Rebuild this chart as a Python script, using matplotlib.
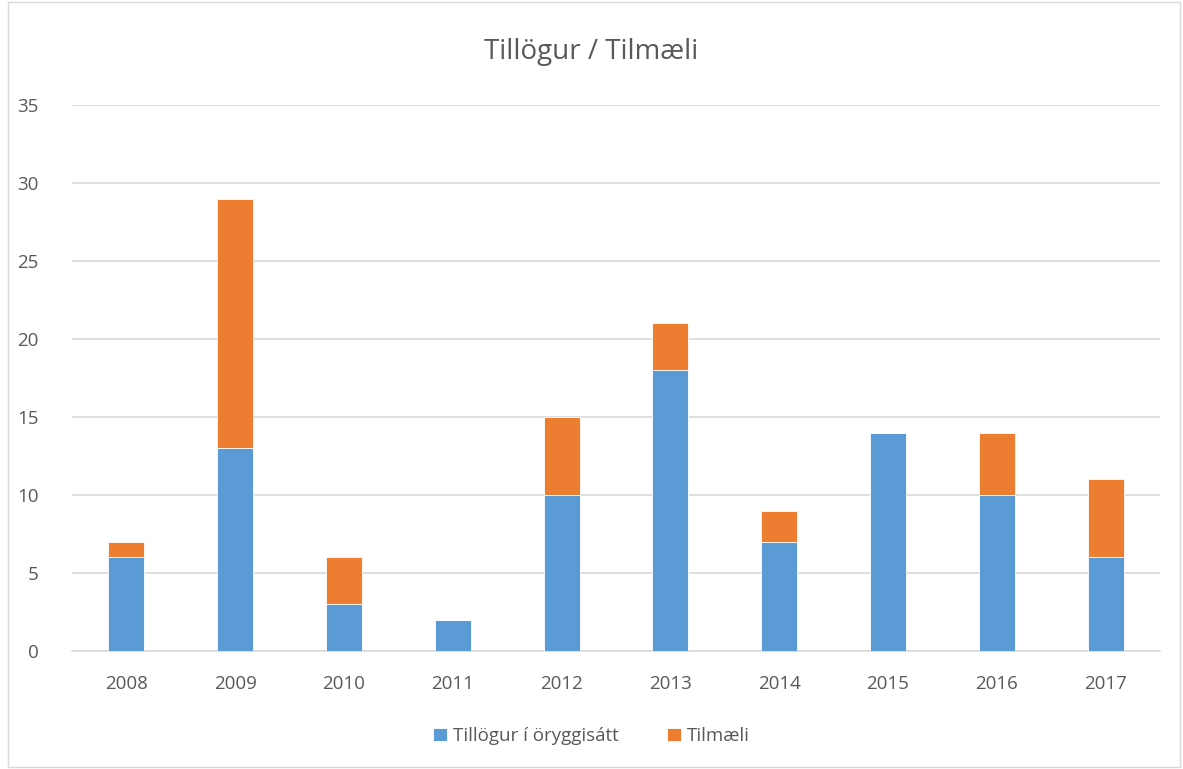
import numpy as np
import matplotlib.pyplot as plt
from matplotlib.patches import Rectangle

years = ['2008', '2009', '2010', '2011', '2012', '2013', '2014', '2015', '2016', '2017']
tillogur = [6, 13, 3, 2, 10, 18, 7, 14, 10, 6]
tilmaeli = [1, 16, 3, 0, 5, 3, 2, 0, 4, 5]

plt.rcParams['font.family'] = ['Open Sans', 'DejaVu Sans']
txt = '#595959'

fig = plt.figure(figsize=(11.83, 7.69), dpi=100)
ax = fig.add_axes([72 / 1183, 1 - 651 / 769, (1160 - 72) / 1183, (651 - 105) / 769])

x = np.arange(len(years))
w = 0.33
ax.bar(x, tillogur, w, color='#5B9BD5', edgecolor='white', linewidth=0.6,
       label='Tillögur í öryggisátt', zorder=3)
ax.bar(x, tilmaeli, w, bottom=tillogur, color='#ED7D31', edgecolor='white', linewidth=0.6,
       label='Tilmæli', zorder=3)

ax.set_xlim(-0.5, len(years) - 0.5)
ax.set_ylim(0, 35)
ax.set_yticks(range(0, 36, 5))
ax.set_xticks(x)
ax.set_xticklabels(years)
ax.grid(axis='y', color='#D9D9D9', linewidth=1.2, zorder=0)
for s in ['top', 'right', 'left']:
    ax.spines[s].set_visible(False)
ax.spines['bottom'].set_color('#D9D9D9')
ax.spines['bottom'].set_linewidth(1.2)
ax.tick_params(length=0, labelsize=13.5, colors=txt)
ax.tick_params(axis='x', pad=17)
ax.tick_params(axis='y', pad=24)

fig.text(0.5, 1 - 52 / 769, 'Tillögur / Tilmæli', ha='center', va='center', fontsize=20, color=txt)
fig.legend(loc='center', bbox_to_anchor=(0.5, 1 - 736 / 769), ncol=2, frameon=False,
           fontsize=13.5, labelcolor=txt, handlelength=0.75, handleheight=0.75, columnspacing=2.6,
           handletextpad=0.3)

fig.patches.append(Rectangle((8 / 1183, 0.003), 1 - 11 / 1183, 0.994, transform=fig.transFigure,
                             fill=False, edgecolor='#D9D9D9', linewidth=1))

fig.savefig('out.png', dpi=100)
